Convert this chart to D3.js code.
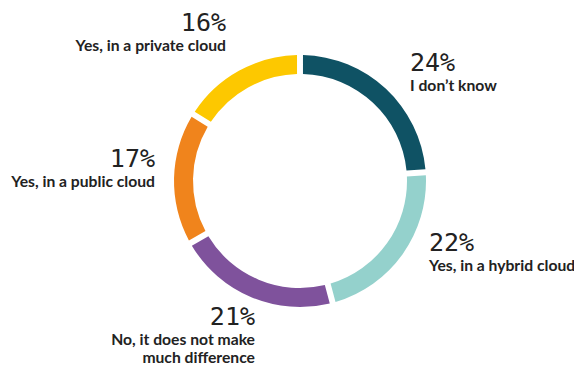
<!DOCTYPE html>
<html>
<head>
<meta charset="utf-8">
<script src="https://cdn.jsdelivr.net/npm/d3@7"></script>
<style>
  body { margin: 0; background: #fff; }
  .pct { font-family: "DejaVu Sans Mono", monospace; font-size: 25px; fill: #222; }
  .lbl { font-family: Lato, "Open Sans", sans-serif; font-weight: 700; font-size: 15.7px; fill: #222; }
</style>
</head>
<body>
<div id="canvas"></div>
<script>
// data
var categories = ['I don\u2019t know', 'Yes, in a hybrid cloud', 'No, it does not make much difference', 'Yes, in a public cloud', 'Yes, in a private cloud'];
var values = [24, 22, 21, 17, 16];
var colors = ['#0f5264', '#94d1cc', '#7f529c', '#f0841c', '#fdc800'];
var labelLines = [['I don\u2019t know'], ['Yes, in a hybrid cloud'], ['No, it does not make', 'much difference'], ['Yes, in a public cloud'], ['Yes, in a private cloud']];

// label placement: x, baseline y of percent, anchor
var labelPos = [
  {x: 410, y: 71, anchor: 'start'},
  {x: 429, y: 251, anchor: 'start'},
  {x: 255, y: 325, anchor: 'end'},
  {x: 155, y: 167, anchor: 'end'},
  {x: 226, y: 31, anchor: 'end'}
];

var width = 574, height = 365;
var cx = 300, cy = 181;

var svg = d3.select('#canvas').append('svg')
  .attr('width', width)
  .attr('height', height);

var pie = d3.pie().sort(null).padAngle(0.036);
var arc = d3.arc().innerRadius(107).outerRadius(126);

var data = categories.map(function(c, i) { return {name: c, value: values[i]}; });
var arcs = pie.value(function(d) { return d.value; })(data);

svg.append('g')
  .attr('transform', 'translate(' + cx + ',' + cy + ')')
  .selectAll('path').data(arcs).enter()
  .append('path')
  .attr('d', arc)
  .attr('fill', function(d, i) { return colors[i]; });

var labels = svg.selectAll('.label').data(data).enter()
  .append('g').attr('class', 'label');

labels.append('text')
  .attr('class', 'pct')
  .attr('x', function(d, i) { return labelPos[i].x; })
  .attr('y', function(d, i) { return labelPos[i].y; })
  .attr('text-anchor', function(d, i) { return labelPos[i].anchor; })
  .text(function(d) { return d.value + '%'; });

labels.each(function(d, i) {
  var g = d3.select(this);
  labelLines[i].forEach(function(line, j) {
    g.append('text')
      .attr('class', 'lbl')
      .attr('x', labelPos[i].x)
      .attr('y', labelPos[i].y + 20 + j * 18)
      .attr('text-anchor', labelPos[i].anchor)
      .text(line);
  });
});
</script>
</body>
</html>
